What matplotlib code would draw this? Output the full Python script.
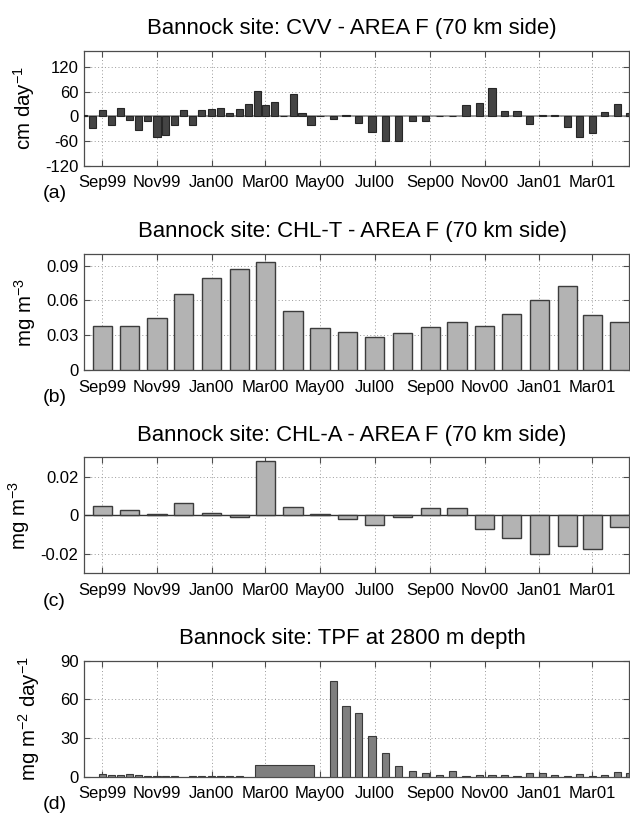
import matplotlib
matplotlib.use("Agg")
import matplotlib.pyplot as plt
import matplotlib.dates as mdates
import pandas as pd

plt.rcParams['font.family'] = ['Liberation Sans', 'DejaVu Sans']
plt.rcParams['mathtext.fontset'] = 'custom'
plt.rcParams['mathtext.rm'] = 'Liberation Sans'
plt.rcParams['mathtext.it'] = 'Liberation Sans:italic'
plt.rcParams['mathtext.bf'] = 'Liberation Sans:bold'
plt.rcParams['axes.unicode_minus'] = False

# ---------------- data ----------------
tick_dates = ['1999-09-01', '1999-11-01', '2000-01-01', '2000-03-01', '2000-05-01',
              '2000-07-01', '2000-09-01', '2000-11-01', '2001-01-01', '2001-03-01']
tick_labels = ['Sep99', 'Nov99', 'Jan00', 'Mar00', 'May00',
               'Jul00', 'Sep00', 'Nov00', 'Jan01', 'Mar01']

# (a) CVV, cm/day
cvv_dates = ['1999-08-11', '1999-08-21', '1999-09-01', '1999-09-11', '1999-09-21',
             '1999-10-01', '1999-10-11', '1999-10-21', '1999-11-01', '1999-11-11',
             '1999-11-21', '1999-12-01', '1999-12-11', '1999-12-21', '2000-01-01',
             '2000-01-11', '2000-01-21', '2000-02-01', '2000-02-11', '2000-02-21',
             '2000-03-01', '2000-03-11', '2000-03-21', '2000-04-01', '2000-04-11',
             '2000-04-21', '2000-05-01',
             '2000-05-16', '2000-05-30', '2000-06-13', '2000-06-28', '2000-07-13',
             '2000-07-28', '2000-08-12', '2000-08-27', '2000-09-11', '2000-09-26',
             '2000-10-11', '2000-10-26', '2000-11-09', '2000-11-23', '2000-12-07',
             '2000-12-21', '2001-01-04', '2001-01-18', '2001-02-01', '2001-02-15',
             '2001-03-01', '2001-03-15', '2001-03-29', '2001-04-12']
cvv_values = [3, -28, 16, -20, 19.5,
              -8.5, -33.5, -12, -51, -45,
              -22, 14.5, -20, 16, 18.5,
              21, 7.5, 18, 30, 61,
              28.5, 35.5, 1.5, 54, 7.5,
              -22, 0,
              -6, 3, -16, -39, -59,
              -59, -12, -12, 1.5, 1.5,
              27, 32.5, 69, 12, 13.5,
              -19, 3.5, 3.5, -26, -50.5,
              -40, 11, 31, 9]

# (b) CHL-T and (c) CHL-A, mg m^-3, monthly
chl_months = ['1999-09-01', '1999-10-01', '1999-11-01', '1999-12-01', '2000-01-01',
              '2000-02-01', '2000-03-01', '2000-04-01', '2000-05-01', '2000-06-01',
              '2000-07-01', '2000-08-01', '2000-09-01', '2000-10-01', '2000-11-01',
              '2000-12-01', '2001-01-01', '2001-02-01', '2001-03-01', '2001-04-01']
chlt_values = [0.0383, 0.0383, 0.0451, 0.0657, 0.0794,
               0.0871, 0.0934, 0.0511, 0.0366, 0.0331,
               0.0283, 0.0320, 0.0374, 0.0417, 0.0377,
               0.0483, 0.0606, 0.0720, 0.0471, 0.0411]
chla_values = [0.0046, 0.0026, 0.0007, 0.0062, 0.0014,
               -0.0010, 0.0280, 0.0044, 0.0005, -0.0021,
               -0.0051, -0.0007, 0.0036, 0.0036, -0.0070,
               -0.0118, -0.0200, -0.0161, -0.0174, -0.0060]

# (d) TPF, mg m^-2 day^-1
tpf_dates = ['1999-09-01', '1999-09-11', '1999-09-21', '1999-10-01', '1999-10-11',
             '1999-10-21', '1999-11-01', '1999-11-11', '1999-11-21', '1999-12-11',
             '1999-12-21', '2000-01-01', '2000-01-11', '2000-01-21', '2000-02-01',
             '2000-05-16', '2000-05-30', '2000-06-13', '2000-06-28', '2000-07-13',
             '2000-07-28', '2000-08-12', '2000-08-27', '2000-09-11', '2000-09-26',
             '2000-10-11', '2000-10-26', '2000-11-09', '2000-11-23', '2000-12-07',
             '2000-12-21', '2001-01-04', '2001-01-18', '2001-02-01', '2001-02-15',
             '2001-03-01', '2001-03-15', '2001-03-29', '2001-04-12']
tpf_values = [2.1, 1.5, 1.0, 2.1, 1.0,
              0.8, 0.8, 0.8, 0.8, 0.8,
              0.8, 0.8, 0.8, 0.8, 0.8,
              74.2, 55.1, 49.4, 31.4, 18.5,
              8.5, 4.4, 3.1, 1.0, 4.4,
              0.8, 1.0, 1.5, 1.5, 0.8,
              2.8, 3.1, 1.0, 0.8, 2.1,
              0.8, 1.0, 3.3, 3.1]
tpf_long_start = '2000-02-19'
tpf_long_end = '2000-04-24'
tpf_long_value = 9.3

# ---------------- figure ----------------
W, H = 630, 814
fig = plt.figure(figsize=(W / 100, H / 100), dpi=100)

ax_left_px, ax_right_px = 84, 629
panels_px = [(50.7, 165.7), (254, 370), (457.3, 573.3), (660.7, 776.7)]


def make_ax(top, bottom):
    return fig.add_axes([ax_left_px / W, 1 - bottom / H,
                         (ax_right_px - ax_left_px) / W, (bottom - top) / H])


def d2n(lst):
    return mdates.date2num(pd.to_datetime(lst).to_pydatetime())


xmin = mdates.date2num(pd.Timestamp('1999-08-11 13:40').to_pydatetime())
xmax = mdates.date2num(pd.Timestamp('2001-04-11 00:00').to_pydatetime())
ticks = d2n(tick_dates)

spine_col = '#4d4d4d'
grid_col = '#9a9a9a'


def style(ax, title, ylabel, yticks, yticklabels, ylim, label_x, letter):
    ax.set_xlim(xmin, xmax)
    ax.set_ylim(*ylim)
    ax.set_xticks(ticks)
    ax.set_xticklabels(tick_labels)
    ax.set_yticks(yticks)
    ax.set_yticklabels(yticklabels)
    ax.tick_params(direction='in', length=4, width=0.8, colors=spine_col,
                   labelcolor='black', labelsize=12, top=True, right=True)
    ax.tick_params(axis='x', pad=7)
    ax.tick_params(axis='y', pad=4)
    for s in ax.spines.values():
        s.set_color(spine_col)
        s.set_linewidth(0.9)
    ax.grid(True, linestyle=(0, (1, 2.5)), color=grid_col, linewidth=0.7)
    ax.set_axisbelow(True)
    ax.set_title(title, fontsize=15.9, pad=12, x=0.492)
    ax.set_ylabel(ylabel, fontsize=14.8)
    ax.yaxis.set_label_coords(label_x, 0.5)
    ax.text(-0.076, -0.24, letter, transform=ax.transAxes, fontsize=14,
            ha='left', va='center')


# (a)
ax = make_ax(*panels_px[0])
ax.bar(d2n(cvv_dates), cvv_values, width=8.0, color='#444444',
       edgecolor='#262626', linewidth=0.8, zorder=3)
ax.axhline(0, color='#8c8c8c', linewidth=1.2, zorder=2)
style(ax, 'Bannock site: CVV - AREA F (70 km side)', 'cm day$^{-1}$',
      [-120, -60, 0, 60, 120], ['-120', '-60', '0', '60', '120'], (-120, 160),
      -0.0857, '(a)')

# (b)
ax = make_ax(*panels_px[1])
ax.bar(d2n(chl_months), chlt_values, width=21.5, color='#b3b3b3',
       edgecolor='#3c3c3c', linewidth=1.0, zorder=3)
style(ax, 'Bannock site: CHL-T - AREA F (70 km side)', 'mg m$^{-3}$',
      [0, 0.03, 0.06, 0.09], ['0', '0.03', '0.06', '0.09'], (0, 0.1),
      -0.0835, '(b)')

# (c)
ax = make_ax(*panels_px[2])
ax.bar(d2n(chl_months), chla_values, width=21.5, color='#b3b3b3',
       edgecolor='#3c3c3c', linewidth=1.0, zorder=3)
ax.axhline(0, color='#333333', linewidth=1.0, zorder=2)
style(ax, 'Bannock site: CHL-A - AREA F (70 km side)', 'mg m$^{-3}$',
      [-0.02, 0, 0.02], ['-0.02', '0', '0.02'], (-0.03, 0.03),
      -0.096, '(c)')

# (d)
ax = make_ax(*panels_px[3])
ax.bar(d2n(tpf_dates), tpf_values, width=8.0, color='#7f7f7f',
       edgecolor='#3a3a3a', linewidth=0.8, zorder=3)
ls, le = d2n([tpf_long_start, tpf_long_end])
ax.bar([ls], [tpf_long_value], width=le - ls, align='edge', color='#7f7f7f',
       edgecolor='#3a3a3a', linewidth=0.8, zorder=3)
style(ax, 'Bannock site: TPF at 2800 m depth', 'mg m$^{-2}$ day$^{-1}$',
      [0, 30, 60, 90], ['0', '30', '60', '90'], (0, 90),
      -0.0777, '(d)')

fig.savefig('out.png', dpi=100)
